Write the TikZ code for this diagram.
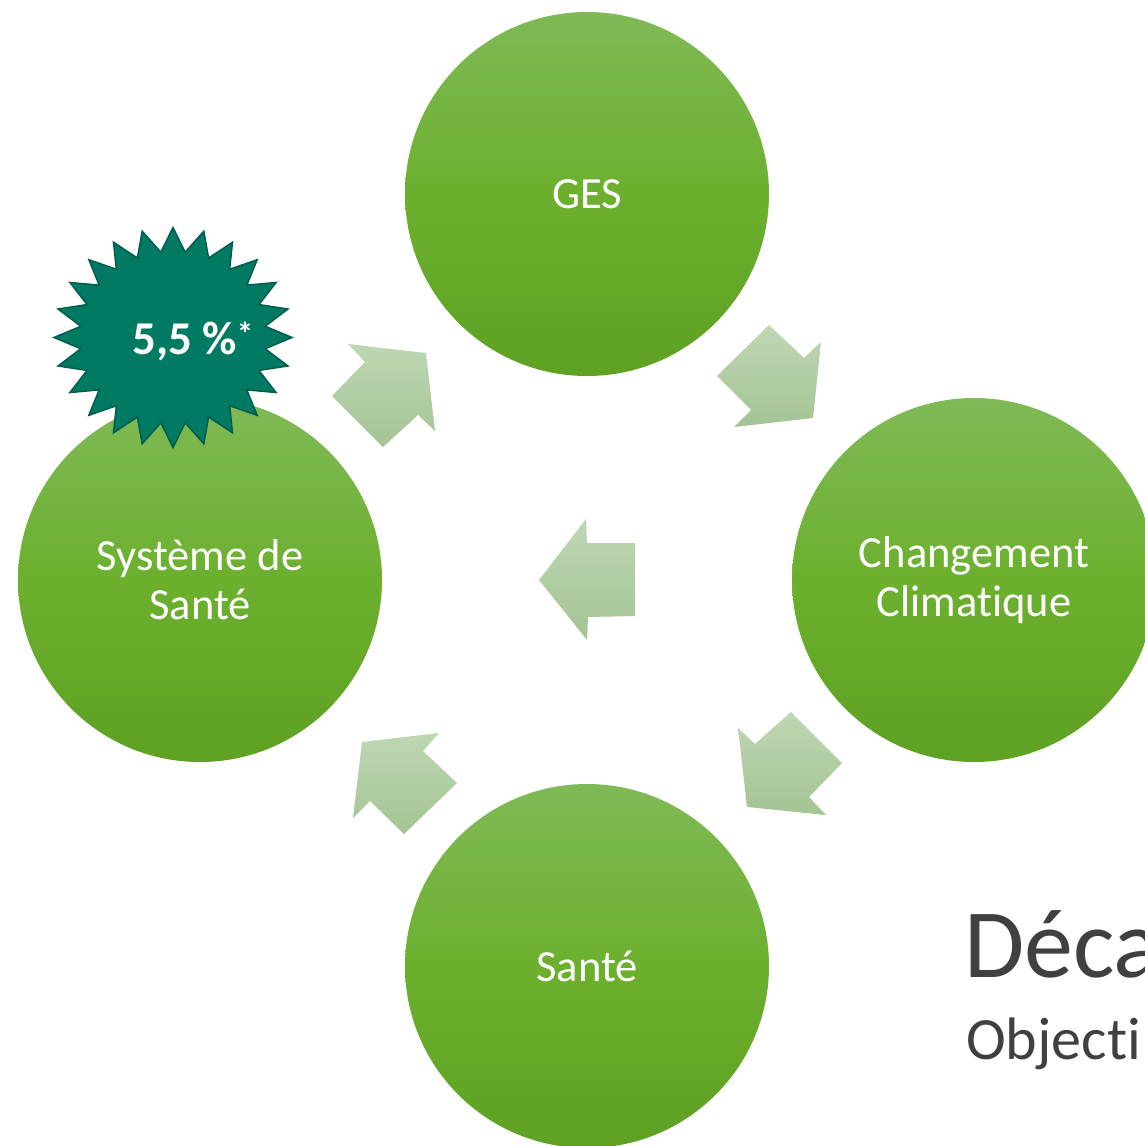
\documentclass[tikz,border=0pt]{standalone}
\usepackage{fontspec}
\setmainfont{Carlito}[Ligatures=NoCommon]
\usetikzlibrary{calc}
\definecolor{circtop}{RGB}{128,185,86}
\definecolor{circmid}{RGB}{108,176,46}
\definecolor{circbot}{RGB}{94,161,35}
\definecolor{arrtop}{RGB}{191,215,180}
\definecolor{arrbot}{RGB}{164,196,148}
\definecolor{burstfill}{RGB}{0,122,99}
\definecolor{burstline}{RGB}{0,92,76}
\definecolor{titlegray}{RGB}{64,64,64}
\tikzset{
  circ/.style={circle, minimum size=364pt, inner sep=0pt, top color=circtop, bottom color=circbot, middle color=circmid, text=white, align=center, font=\fontsize{44.5}{49}\selectfont},
  blockarrow/.style={top color=arrtop, bottom color=arrbot, draw=none},
  burst/.style={fill=burstfill, draw=burstline, line width=1.5pt, line join=miter},
  bursttext/.style={text=white, inner sep=0pt, font=\bfseries\fontsize{47}{50}\selectfont},
  titletext/.style={anchor=base west, inner sep=0pt, text=titlegray}
}
\begin{document}
\begin{tikzpicture}[x=1pt,y=-1pt]
\useasboundingbox (0,0) rectangle (1145,1146);
\clip (0,0) rectangle (1145,1146);
% circles
\node[circ] (ges) at (587,194) {GES};
\node[circ] (cc) at (974,580) {Changement\\Climatique};
\node[circ] (sante) at (587,966) {Santé};
\node[circ] (sys) at (200,580) {Système de\\Santé};
% block arrows
\shade[blockarrow] (769,325) -- (804,358) -- (821,342) -- (813,418) -- (734,427) -- (751,410) -- (717,376) -- cycle;
\shade[blockarrow] (738,728) -- (755,744) -- (791,712) -- (842,763) -- (809,797) -- (826,815) -- (747,807) -- cycle;
\shade[blockarrow] (362,742) -- (439,733) -- (423,751) -- (457,783) -- (404,834) -- (370,801) -- (353,818) -- cycle;
\shade[blockarrow] (348,344) -- (426,353) -- (435,431) -- (418,415) -- (383,447) -- (332,396) -- (365,362) -- cycle;
\shade[blockarrow] (539,580) -- (586,519) -- (587,543) -- (635,543) -- (635,616) -- (588,617) -- (587,640) -- cycle;
% starburst
\coordinate (bc) at (173,337.5);
\filldraw[burst] ($(bc)+(90:119 and 110)$) \foreach \a in {0,15,...,345} { -- ($(bc)+(90+\a:119 and 110)$) -- ($(bc)+(97.5+\a:93 and 86)$) } -- cycle;
\node[bursttext] (burstlabel) at (193,341) {5,5 \%\textsuperscript{*}};
% title text
\node[titletext, font=\fontsize{98}{110}\selectfont] (title) at (964,977) {Déca};
\node[titletext, font=\fontsize{60}{70}\selectfont] (subtitle) at (966,1059) {Objecti};
\end{tikzpicture}
\end{document}
